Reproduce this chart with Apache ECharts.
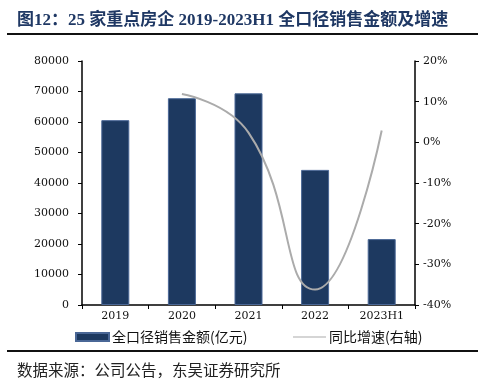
<!DOCTYPE html>
<html><head><meta charset="utf-8">
<script src="https://cdn.jsdelivr.net/npm/echarts@6/dist/echarts.min.js"></script>
<style>html,body{margin:0;padding:0;background:#fff}#c{width:481px;height:390px}</style>
</head><body><div id="c"></div>
<script>
var categories = ['2019', '2020', '2021', '2022', '2023H1'];
var salesValues = [60600, 67800, 69400, 44300, 21600];
var growthValues = [null, 11.9, 2.4, -36.2, 2.9];
var leftTicks = [0, 10000, 20000, 30000, 40000, 50000, 60000, 70000, 80000];
var rightTicks = [-40, -30, -20, -10, 0, 10, 20];
var titleText = '图12：25 家重点房企 2019-2023H1 全口径销售金额及增速';
var sourceText = '数据来源：公司公告，东吴证券研究所';
var barName = '全口径销售金额(亿元)';
var lineName = '同比增速(右轴)';

var serif = '"DejaVu Serif","Liberation Serif",serif';
var cjk = '"Noto Sans CJK SC",sans-serif';
var chart = echarts.init(document.getElementById('c'), null, {renderer: 'canvas'});
chart.setOption({
  animation: false,
  backgroundColor: '#fff',
  grid: {left: 82, right: 66, top: 61, bottom: 85},
  graphic: [
    {type: 'text', left: 17, top: 12, style: {text: titleText, fill: '#1f3864', font: 'bold 17px "Liberation Serif","Noto Sans CJK SC",serif'}},
    {type: 'rect', shape: {x: 7, y: 33, width: 471, height: 2}, style: {fill: '#111'}},
    {type: 'rect', shape: {x: 7, y: 350, width: 471, height: 2}, style: {fill: '#111'}},
    {type: 'text', left: 17, top: 362, style: {text: sourceText, fill: '#222', font: '15.5px "Noto Sans CJK SC",sans-serif'}}
  ],
  legend: [
    {left: 70, top: 325, itemWidth: 33, itemHeight: 8, itemGap: 4, data: [{name: barName, icon: 'rect'}],
     textStyle: {fontFamily: cjk, fontSize: 14, color: '#111', padding: [0, 0, 0, -2]}},
    {left: 288, top: 325, itemWidth: 33, itemHeight: 8, data: [{name: lineName, icon: 'path://M0,3.5 L33,3.5 L33,4.5 L0,4.5 Z'}],
     textStyle: {fontFamily: cjk, fontSize: 14, color: '#111', padding: [0, 0, 0, -2]}}
  ],
  xAxis: {
    type: 'category', data: categories,
    axisLine: {lineStyle: {color: '#000', width: 1.5}},
    axisTick: {show: true, alignWithLabel: false, length: 4, lineStyle: {color: '#000'}},
    axisLabel: {fontFamily: serif, fontSize: 11, color: '#111', margin: 6}
  },
  yAxis: [
    {type: 'value', min: 0, max: 80000, interval: 10000,
     axisLine: {show: true, lineStyle: {color: '#000', width: 1.5}},
     axisTick: {show: true, length: 4, lineStyle: {color: '#000'}},
     splitLine: {show: false},
     axisLabel: {fontFamily: serif, fontSize: 11, color: '#111', margin: 13,
       formatter: function (v) { return leftTicks.indexOf(v) >= 0 ? String(v) : ''; }}},
    {type: 'value', min: -40, max: 20, interval: 10, position: 'right',
     axisLine: {show: true, lineStyle: {color: '#000', width: 1.5}},
     axisTick: {show: true, length: 4, lineStyle: {color: '#000'}},
     splitLine: {show: false},
     axisLabel: {fontFamily: serif, fontSize: 11, color: '#111', margin: 8,
       formatter: function (v) { return rightTicks.indexOf(v) >= 0 ? v + '%' : ''; }}}
  ],
  series: [
    {name: barName, type: 'bar', data: salesValues, barWidth: 28, yAxisIndex: 0,
     itemStyle: {color: '#1d3960', borderColor: '#4a6796', borderWidth: 1}},
    {name: lineName, type: 'line', data: growthValues, yAxisIndex: 1, smooth: 0.5,
     showSymbol: false, symbol: 'none', connectNulls: false,
     lineStyle: {color: '#ababab', width: 2}, itemStyle: {color: '#ababab'}}
  ]
});
</script></body></html>
